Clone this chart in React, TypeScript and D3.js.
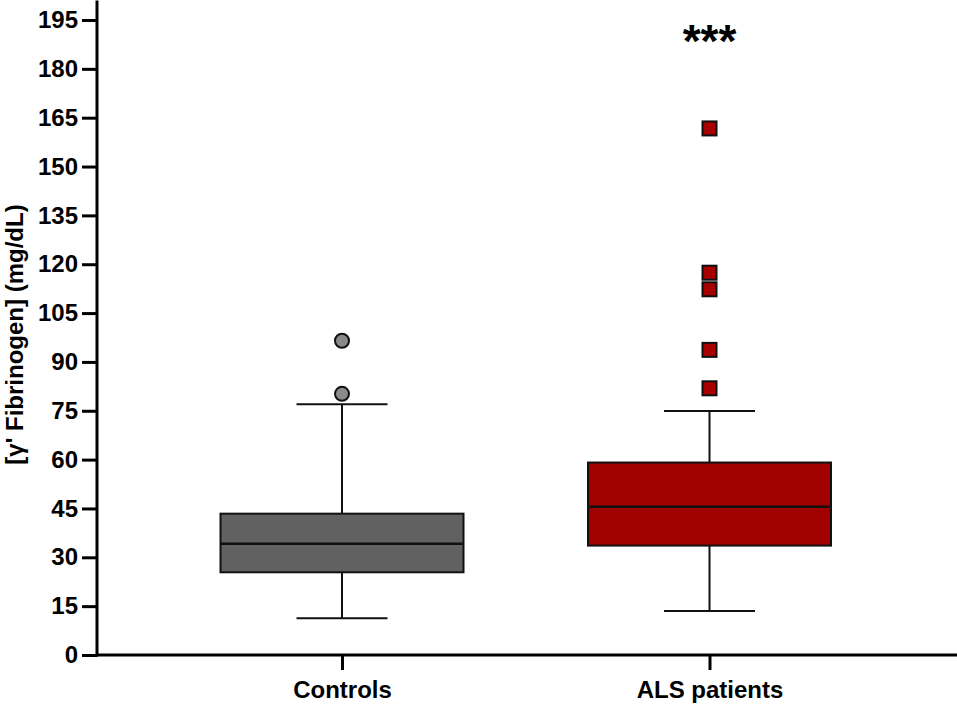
import React, { useEffect, useRef } from 'react';
import * as d3 from 'd3';

// Box statistics (mg/dL)
const categories = ['Controls', 'ALS patients'];
const whiskerLow = [11.3, 13.5];
const q1 = [25.4, 33.6];
const median = [34.2, 45.5];
const q3 = [43.4, 59.1];
const whiskerHigh = [77.0, 74.9];
const controlOutliers = [96.5, 80.2];
const alsOutliers = [161.7, 117.4, 112.3, 93.7, 81.9];
const boxFills = ['#616161', '#a00000'];
const outlierFills = ['#8a8a8a', '#a80000'];
const yTicks = d3.range(0, 196, 15);
const sigLabel = '***';
const sigValue = 183.5;

const FONT = "'Liberation Sans', Arial, sans-serif";

const App: React.FC = () => {
  const svgRef = useRef<SVGSVGElement>(null);

  useEffect(() => {
    if (!svgRef.current) return;
    const width = 957;
    const height = 704;

    d3.select(svgRef.current).selectAll('*').remove();
    const svg = d3.select(svgRef.current)
      .attr('width', width)
      .attr('height', height);

    const y = d3.scaleLinear().domain([0, 195]).range([655, 20]);
    const x = d3.scalePoint<string>().domain(categories).range([342, 709.5]);
    const axisX = 97;
    const boxHalf = 121.5;
    const capHalf = 45.5;

    // Y axis
    const yAxis = svg.append('g')
      .attr('transform', `translate(${axisX},0)`)
      .call(d3.axisLeft(y).tickValues(yTicks).tickSize(15).tickSizeOuter(0).tickPadding(4));
    yAxis.select('.domain').remove();
    yAxis.selectAll('.tick line').attr('stroke', '#000').attr('stroke-width', 3);
    yAxis.selectAll('.tick text')
      .attr('fill', '#000')
      .style('font-family', FONT)
      .style('font-size', '24px')
      .style('font-weight', 'bold');
    svg.append('line')
      .attr('x1', axisX).attr('x2', axisX)
      .attr('y1', y(0) + 1.5).attr('y2', y(201))
      .attr('stroke', '#000').attr('stroke-width', 3);

    // X axis
    const xAxis = svg.append('g')
      .attr('transform', `translate(0,${y(0)})`)
      .call(d3.axisBottom(x).tickSize(15).tickSizeOuter(0).tickPadding(14));
    xAxis.select('.domain').remove();
    xAxis.selectAll('.tick line').attr('stroke', '#000').attr('stroke-width', 3);
    xAxis.selectAll('.tick text')
      .attr('fill', '#000')
      .attr('dy', 0)
      .attr('y', 43)
      .style('font-family', FONT)
      .style('font-size', '24px')
      .style('font-weight', 'bold');
    svg.append('line')
      .attr('x1', axisX - 1.5).attr('x2', width)
      .attr('y1', y(0)).attr('y2', y(0))
      .attr('stroke', '#000').attr('stroke-width', 3);

    // Y title
    svg.append('text')
      .attr('transform', `translate(23,${(y(0) + y(195)) / 2 - 3}) rotate(-90)`)
      .attr('text-anchor', 'middle')
      .style('font-family', FONT)
      .style('font-size', '24px')
      .style('font-weight', 'bold')
      .text("[γ' Fibrinogen] (mg/dL)");

    // Boxes
    categories.forEach((c, i) => {
      const cx = x(c)!;
      const g = svg.append('g');
      g.append('line')
        .attr('x1', cx).attr('x2', cx)
        .attr('y1', y(whiskerLow[i])).attr('y2', y(whiskerHigh[i]))
        .attr('stroke', '#111').attr('stroke-width', 2);
      [whiskerLow[i], whiskerHigh[i]].forEach(v => {
        g.append('line')
          .attr('x1', cx - capHalf).attr('x2', cx + capHalf)
          .attr('y1', y(v)).attr('y2', y(v))
          .attr('stroke', '#111').attr('stroke-width', 2);
      });
      g.append('rect')
        .attr('x', cx - boxHalf)
        .attr('y', y(q3[i]))
        .attr('width', boxHalf * 2)
        .attr('height', y(q1[i]) - y(q3[i]))
        .attr('fill', boxFills[i])
        .attr('stroke', '#111')
        .attr('stroke-width', 2);
      g.append('line')
        .attr('x1', cx - boxHalf).attr('x2', cx + boxHalf)
        .attr('y1', y(median[i])).attr('y2', y(median[i]))
        .attr('stroke', '#111').attr('stroke-width', 2.5);
    });

    // Outliers
    const cx0 = x(categories[0])!;
    svg.append('g').selectAll('circle')
      .data(controlOutliers)
      .join('circle')
      .attr('cx', cx0)
      .attr('cy', d => y(d))
      .attr('r', 7)
      .attr('fill', outlierFills[0])
      .attr('stroke', '#111')
      .attr('stroke-width', 2);

    const cx1 = x(categories[1])!;
    const sq = 14;
    svg.append('g').selectAll('rect')
      .data(alsOutliers)
      .join('rect')
      .attr('x', cx1 - sq / 2)
      .attr('y', d => y(d) - sq / 2)
      .attr('width', sq)
      .attr('height', sq)
      .attr('fill', outlierFills[1])
      .attr('stroke', '#111')
      .attr('stroke-width', 2);

    // Significance
    svg.append('text')
      .attr('x', cx1)
      .attr('y', y(sigValue))
      .attr('text-anchor', 'middle')
      .style('font-family', FONT)
      .style('font-size', '46px')
      .style('font-weight', 'bold')
      .text(sigLabel);
  }, []);

  return (
    <svg ref={svgRef} style={{ position: 'absolute', top: 0, left: 0, background: '#fff' }} />
  );
};

export default App;
